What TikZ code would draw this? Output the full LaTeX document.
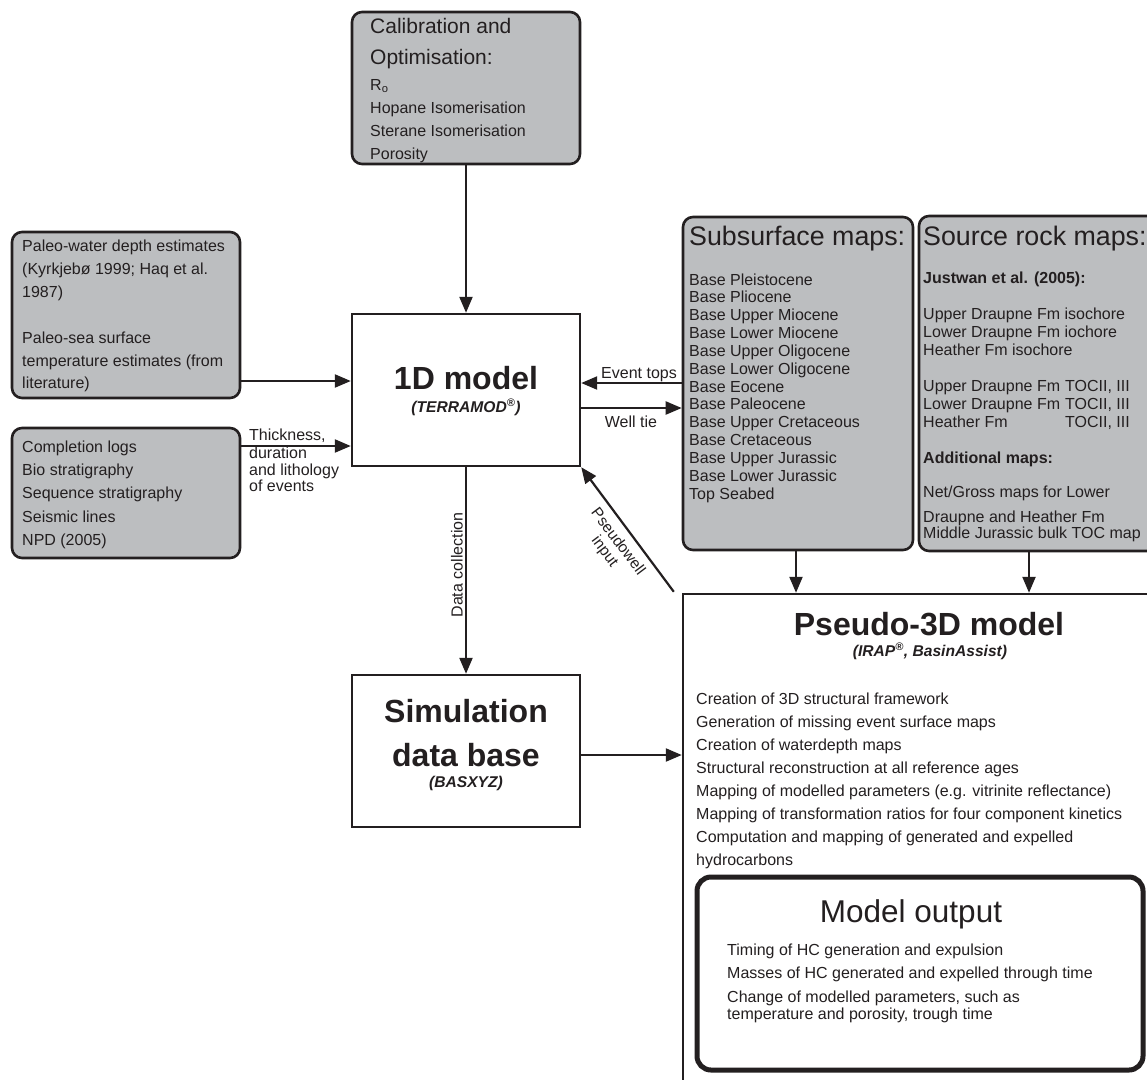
\documentclass[tikz,border=0pt]{standalone}
\usepackage{fontspec}
\setmainfont{Liberation Sans}
\usetikzlibrary{arrows.meta,positioning,calc}
\definecolor{boxgray}{RGB}{188,190,192}
\definecolor{ink}{RGB}{35,31,32}
\newcommand{\bodyfont}{\fontsize{16}{18}\selectfont}

\begin{document}
\begin{tikzpicture}[x=1pt, y=-1pt, >={Triangle[length=16pt,width=13pt]},
  every node/.style={text=ink, inner sep=0pt},
  graybox/.style={draw=ink, line width=2.6pt, fill=boxgray, rounded corners=10pt},
  whitebox/.style={draw=ink, line width=2.4pt, fill=white},
  txt/.style={anchor=base west, font=\bodyfont},
  boldtxt/.style={anchor=base west, font=\bodyfont\bfseries},
  lbl/.style={font=\bodyfont},
  title/.style={anchor=base, font=\fontsize{32}{36}\selectfont\bfseries},
  subtitle/.style={anchor=base, font=\fontsize{15.6}{18}\selectfont\bfseries\itshape},
  arr/.style={->, draw=ink, line width=2.2pt}]
  \useasboundingbox (0,0) rectangle (1147,1079);
  \clip (0,0) rectangle (1147,1079);

  %% Boxes
  \node[graybox, minimum width=228, minimum height=152] (calib) at (466,88) {};
  \node[graybox, minimum width=228, minimum height=166] (paleo) at (126,315) {};
  \node[graybox, minimum width=228, minimum height=130] (logs) at (126,493) {};
  \node[whitebox, minimum width=228, minimum height=152] (onemod) at (466,390) {};
  \node[whitebox, minimum width=228, minimum height=152] (simdb) at (466,751) {};
  \node[graybox, minimum width=230, minimum height=333] (subsurf) at (798,383.5) {};
  \node[graybox, minimum width=251, minimum height=335] (srcrock) at (1044.5,383.5) {};
  \node[whitebox, minimum width=487, minimum height=506] (pseudo) at (926.5,847) {};
  \node[draw=ink, line width=5pt, fill=white, rounded corners=14pt,
        minimum width=446, minimum height=193] (output) at (920,973.5) {};

  %% Calibration and optimisation
  \node[txt, font=\fontsize{21}{24}\selectfont] (calt1) at (370,33) {Calibration and};
  \node[txt, font=\fontsize{21}{24}\selectfont] (calt2) at (370,64) {Optimisation:};
  \foreach \t/\y [count=\i] in {R\textsubscript{o}/90, Hopane Isomerisation/113,
      Sterane Isomerisation/136, Porosity/159}
    \node[txt] (cal\i) at (370,\y) {\t};

  %% Paleo-water depth and temperature
  \foreach \t/\y [count=\i] in {Paleo-water depth estimates/251,
      {(Kyrkjebø 1999; Haq et al.}/274, {1987)}/297, Paleo-sea surface/343,
      {temperature estimates (from}/366, {literature)}/388}
    \node[txt] (pal\i) at (22,\y) {\t};

  %% Well data
  \foreach \t/\y [count=\i] in {Completion logs/452, Bio stratigraphy/475,
      Sequence stratigraphy/498, Seismic lines/522, {NPD (2005)}/545}
    \node[txt] (log\i) at (22,\y) {\t};

  %% 1D model
  \node[title] (onemodt) at (466,389) {1D model};
  \node[subtitle] (onemods) at (466,412) {(TERRAMOD\textsuperscript{®})};

  %% Simulation data base
  \node[title] (simt1) at (466,722) {Simulation};
  \node[title] (simt2) at (466,766) {data base};
  \node[subtitle] (sims) at (466,787) {(BASXYZ)};

  %% Subsurface maps
  \node[txt, font=\fontsize{26.8}{30}\selectfont] (subt) at (689,245) {Subsurface maps:};
  \foreach \t [count=\i from 0] in {Base Pleistocene, Base Pliocene, Base Upper Miocene,
      Base Lower Miocene, Base Upper Oligocene, Base Lower Oligocene, Base Eocene,
      Base Paleocene, Base Upper Cretaceous, Base Cretaceous, Base Upper Jurassic,
      Base Lower Jurassic, Top Seabed}
    \node[txt] (sub\i) at (689,285+17.85*\i) {\t};

  %% Source rock maps
  \node[txt, font=\fontsize{26.8}{30}\selectfont] (srct) at (923,245) {Source rock maps:};
  \node[boldtxt] (justwan) at (923,283) {Justwan et al. (2005):};
  \foreach \t/\y [count=\i] in {Upper Draupne Fm isochore/319, Lower Draupne Fm iochore/337,
      Heather Fm isochore/355, Upper Draupne Fm/391, Lower Draupne Fm/409, Heather Fm/427,
      {Net/Gross maps for Lower}/497, Draupne and Heather Fm/522,
      Middle Jurassic bulk TOC map/538}
    \node[txt] (src\i) at (923,\y) {\t};
  \foreach \y [count=\i] in {391,409,427}
    \node[txt] (toc\i) at (1065,\y) {TOCII, III};
  \node[boldtxt] (addmaps) at (923,463) {Additional maps:};

  %% Pseudo-3D model
  \node[title] (pst) at (929,635) {Pseudo-3D model};
  \node[subtitle] (pss) at (930,656) {(IRAP\textsuperscript{®}, BasinAssist)};
  \foreach \t [count=\i from 0] in {Creation of 3D structural framework,
      Generation of missing event surface maps, Creation of waterdepth maps,
      Structural reconstruction at all reference ages,
      {Mapping of modelled parameters (e.g. vitrinite reflectance)},
      Mapping of transformation ratios for four component kinetics,
      Computation and mapping of generated and expelled, hydrocarbons}
    \node[txt] (ps\i) at (696,704+23*\i) {\t};

  %% Model output
  \node[anchor=base, font=\fontsize{31.5}{34}\selectfont] (outt) at (911,922) {Model output};
  \foreach \t/\y [count=\i] in {Timing of HC generation and expulsion/955,
      Masses of HC generated and expelled through time/978,
      {Change of modelled parameters, such as}/1002,
      {temperature and porosity, trough time}/1019}
    \node[txt] (out\i) at (727,\y) {\t};

  %% Connectors
  \draw[arr] (calib.south) -- (onemod.north);
  \draw[arr] (paleo.east |- 0,381) -- (onemod.west |- 0,381);
  \draw[arr] (logs.east |- 0,446) -- (onemod.west |- 0,446);
  \foreach \t/\y [count=\i] in {{Thickness,}/440, duration/458, and lithology/475, of events/491}
    \node[txt] (thk\i) at (249,\y) {\t};
  \draw[arr] (subsurf.west |- 0,383) -- (onemod.east |- 0,383);
  \node[lbl, anchor=base east] (evtops) at (677,378) {Event tops};
  \draw[arr] (onemod.east |- 0,408) -- (subsurf.west |- 0,408);
  \node[lbl, anchor=base] (welltie) at (631,427) {Well tie};
  \coordinate (pwtail) at ([xshift=-8pt, yshift=1pt]pseudo.north west);
  \draw[arr] (pwtail) -- (onemod.south east);
  \node[font=\fontsize{15.5}{16.5}\selectfont, align=center, rotate=-53] (pwlbl) at (611,547)
    {Pseudowell\\input};
  \draw[arr] (onemod.south) -- (simdb.north);
  \node[lbl, rotate=90] (datacol) at (457,565) {Data collection};
  \draw[arr] (simdb.east |- 0,755) -- (pseudo.west |- 0,755);
  \draw[arr] (subsurf.south -| 796,0) -- (pseudo.north -| 796,0);
  \draw[arr] (srcrock.south -| 1029,0) -- (pseudo.north -| 1029,0);
\end{tikzpicture}
\end{document}
